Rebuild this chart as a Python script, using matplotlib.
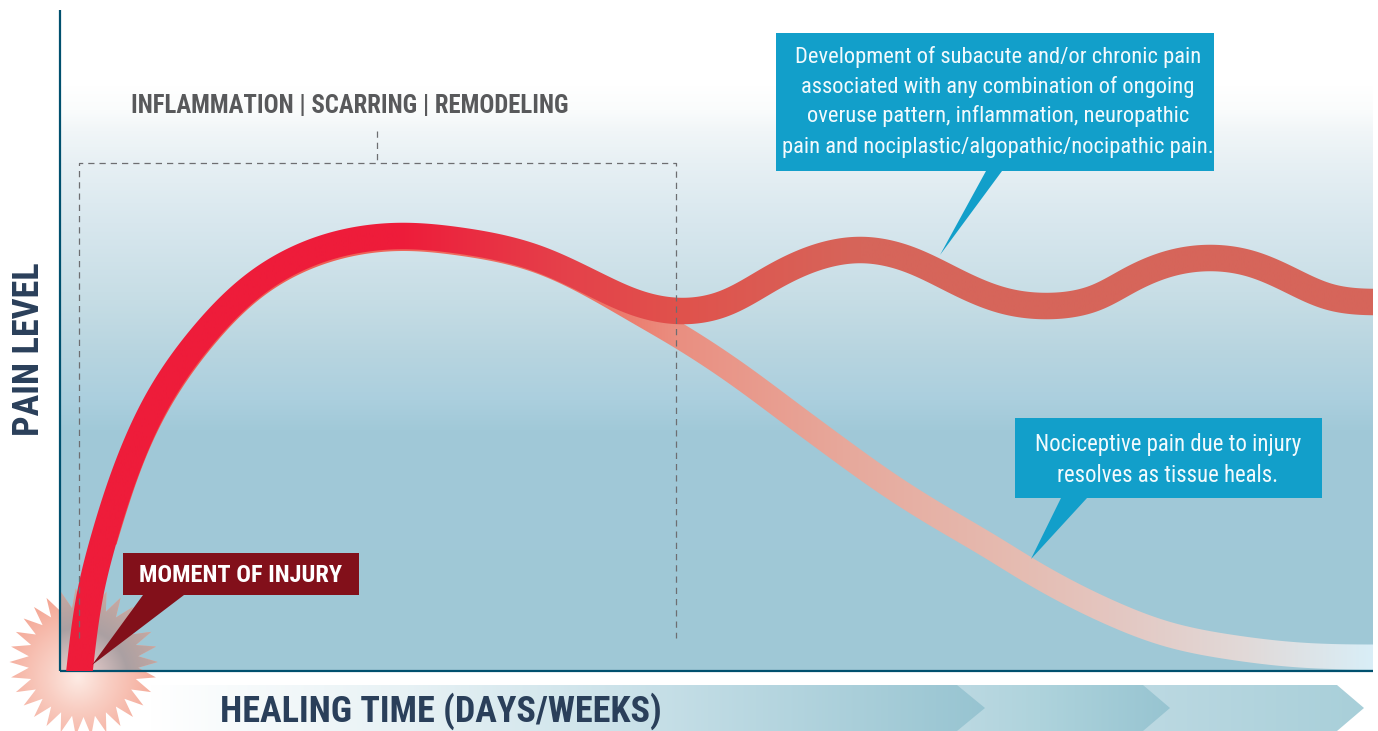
import numpy as np
import matplotlib
matplotlib.use("Agg")
import matplotlib.pyplot as plt
from matplotlib.colors import LinearSegmentedColormap, to_rgb
from matplotlib.path import Path
from matplotlib.patches import Polygon, Rectangle

# Curve centre lines (image pixels)
chronic_x = [78.5, 79.5, 91, 103.5, 134, 159, 205, 260, 320, 402, 459, 536, 600, 640, 680, 720, 770, 815,
             860, 905, 957, 1005, 1050, 1095, 1130, 1170, 1210, 1250, 1290, 1330, 1373, 1385]
chronic_y = [680, 671, 590, 540, 450, 398, 333, 280.5, 249.5, 236, 240.5, 258, 287, 304, 311, 305, 279, 258,
             250, 258, 282, 301, 306, 298, 280, 263.5, 258, 263.5, 280, 297, 302, 302]
resolve_x = [104.5, 135, 160, 206, 261, 321, 402, 459, 536, 600, 640, 676, 740, 790, 840, 890, 940,
             990, 1030, 1110, 1167, 1233, 1300, 1373, 1385]
resolve_y = [541, 451, 400, 335, 282.5, 252, 238.5, 243, 260, 290, 313, 334, 376, 413, 450, 485.5, 517,
             546.5, 571, 612.5, 634, 647.5, 655, 657, 657]
chronic_width = 26.5
resolve_width = 25

callout_chronic = ["Development of subacute and/or chronic pain",
                   "associated with any combination of ongoing",
                   "overuse pattern, inflammation, neuropathic",
                   "pain and nociplastic/algopathic/nocipathic pain."]
callout_resolve = ["Nociceptive pain due to injury", "resolves as tissue heals."]
label_injury = "MOMENT OF INJURY"
label_phases = "INFLAMMATION | SCARRING | REMODELING"
label_y = "PAIN LEVEL"
label_x = "HEALING TIME (DAYS/WEEKS)"

NARROW = ["Roboto Condensed", "Roboto", "DejaVu Sans"]
NAVY = "#2A3F5A"
BLUE = "#129FCA"
DARK = "#82101A"


def spline(s, v, si):
    # natural cubic spline, only used to draw a smooth stroke through the read points
    h = np.diff(s)
    A = np.zeros((len(s), len(s)))
    b = np.zeros(len(s))
    A[0, 0] = A[-1, -1] = 1
    for i in range(1, len(s) - 1):
        A[i, i - 1:i + 2] = h[i - 1], 2 * (h[i - 1] + h[i]), h[i]
        b[i] = 6 * ((v[i + 1] - v[i]) / h[i] - (v[i] - v[i - 1]) / h[i - 1])
    m = np.linalg.solve(A, b)
    k = np.clip(np.searchsorted(s, si) - 1, 0, len(h) - 1)
    a0, a1 = s[k + 1] - si, si - s[k]
    return (m[k] * a0 ** 3 + m[k + 1] * a1 ** 3) / (6 * h[k]) + (v[k] / h[k] - m[k] * h[k] / 6) * a0 \
        + (v[k + 1] / h[k] - m[k + 1] * h[k] / 6) * a1


def ribbon_path(xs, ys, width):
    xs, ys = np.array(xs, float), np.array(ys, float)
    s = np.r_[0, np.cumsum(np.hypot(np.diff(xs), np.diff(ys)))]
    si = np.linspace(0, s[-1], 1500)
    c = np.column_stack([spline(s, xs, si), spline(s, ys, si)])
    g = np.gradient(c, axis=0)
    n = np.column_stack([-g[:, 1], g[:, 0]]) / np.hypot(g[:, 0], g[:, 1])[:, None]
    return Path(np.vstack([c + n * width / 2, (c - n * width / 2)[::-1], (c + n * width / 2)[:1]]), closed=True)


def gradient(ax, clip, stops, x0, x1, y0, y1, vertical=False, zorder=2):
    lo, hi = (y0, y1) if vertical else (x0, x1)
    cmap = LinearSegmentedColormap.from_list("g", [((s - lo) / (hi - lo), c) for s, c in stops], N=512)
    g = np.linspace(0, 1, 512)
    g = g[:, None] if vertical else g[None, :]
    im = ax.imshow(g, cmap=cmap, extent=(x0, x1, y1, y0), aspect="auto", zorder=zorder, interpolation="bilinear")
    if clip is not None:
        im.set_clip_path(clip, transform=ax.transData)
    return im


plt.rcParams["font.family"] = NARROW
fig = plt.figure(figsize=(13.78, 7.31), dpi=100)
ax = fig.add_axes([0, 0, 1, 1])

# Plot background
bg_stops = [(85, "#FFFFFF"), (110, "#FAFCFC"), (130, "#F1F6F8"), (163, "#E7F0F4"), (223, "#D8E7EE"), (300, "#C6DDE5"),
            (350, "#B8D5E0"), (400, "#ABCFDE"), (430, "#A1C9D8"), (671, "#9FC8D6")]
gradient(ax, None, bg_stops, 60, 1373, 85, 671, vertical=True, zorder=1)

# Bottom chevrons, the first one lies on top
chevrons = [(1143, 1337, 1364, [(1143, "#BCD9E2"), (1364, "#A8CFD9")], 2.1),
            (957, 1143, 1170, [(957, "#BCD9E2"), (1040, "#AED3DC"), (1170, "#97C4D1")], 2.2),
            (150, 957, 985, [(150, "#FFFFFF"), (400, "#E8F2F5"), (660, "#C6DFE7"), (985, "#97C4D1")], 2.3)]
for left, shoulder, tip, stops, z in chevrons:
    shape = Path([(left, 685), (shoulder, 685), (tip, 708), (shoulder, 731), (left, 731), (left, 685)], closed=True)
    gradient(ax, shape, stops, left, tip, 685, 731, zorder=z)

# Starburst
n_spikes = 30
angles = np.arange(n_spikes * 2) * np.pi / n_spikes
radii = np.where(np.arange(n_spikes * 2) % 2 == 0, 74, 55)
star = np.column_stack([83.5 + radii * np.cos(angles), 662 + radii * np.sin(angles)])
star_path = Path(np.vstack([star, star[0]]), closed=True)


def radial(x0, x1, y0, y1, stops):
    yy, xx = np.mgrid[y0:y1:300j, x0:x1:300j]
    rr = np.hypot(xx - 78, yy - 678)
    cols = np.array([to_rgb(s[1]) for s in stops])
    return np.dstack([np.interp(rr, [s[0] for s in stops], cols[:, i]) for i in range(3)])


glow = ax.imshow(radial(5, 165, 585, 740, [(0, "#FDEBE4"), (30, "#F9CFC4"), (85, "#F4A593")]),
                 extent=(5, 165, 740, 585), aspect="auto", zorder=3)
glow.set_clip_path(star_path, transform=ax.transData)
over = ax.imshow(radial(61, 165, 585, 671, [(0, "#F5D8D0"), (25, "#D0BCBC"), (50, "#ABA0A2"), (85, "#C4A8A2")]),
                 extent=(61, 165, 671, 585), aspect="auto", zorder=3.1)
over.set_clip_path(star_path, transform=ax.transData)

# Axis lines
ax.plot([60, 60], [10, 671], color="#00506E", lw=1.6, zorder=4, solid_capstyle="butt")
ax.plot([60, 1373], [671, 671], color="#00506E", lw=1.6, zorder=4, solid_capstyle="butt")

# Resolving curve sits under the chronic one
gradient(ax, ribbon_path(resolve_x, resolve_y, resolve_width),
         [(90, "#F0504A"), (600, "#EE7466"), (680, "#EA8F81"), (850, "#E7A99C"), (1030, "#E5BDB3"),
          (1110, "#E4C6C0"), (1250, "#E1DAD9"), (1373, "#D9EEF7")], 90, 1373, 220, 671, zorder=5)
gradient(ax, ribbon_path(chronic_x, chronic_y, chronic_width),
         [(60, "#EE1C3A"), (400, "#EE1C3A"), (560, "#E5404A"), (680, "#E0524C"), (860, "#D6655A"),
          (1373, "#D6655A")], 60, 1373, 220, 671, zorder=6)

# Dashed bracket
dash = dict(color="#6D6E71", lw=0.9, ls=(0, (5, 4)), zorder=7)
ax.plot([79, 79, 676, 676], [638, 163, 163, 638], **dash)
ax.plot([377, 377], [131, 163], **dash)

# Callouts
ax.add_patch(Polygon([(986, 171), (1002, 171), (940, 255)], fc=BLUE, ec="none", zorder=8))
ax.add_patch(Rectangle((776, 33), 438, 138, fc=BLUE, ec="none", zorder=8))
ax.add_patch(Polygon([(1061, 498), (1087, 498), (1031, 559)], fc=BLUE, ec="none", zorder=8))
ax.add_patch(Rectangle((1015, 418), 307, 80, fc=BLUE, ec="none", zorder=8))
ax.add_patch(Polygon([(143, 595), (184, 595), (92, 665)], fc=DARK, ec="none", zorder=8))
ax.add_patch(Rectangle((123, 553), 236, 42, fc=DARK, ec="none", zorder=8))

for line, y in zip(callout_chronic, [57, 87, 116, 147]):
    ax.text(998, y, line, color="#F2FAFD", fontsize=16.2, ha="center", va="center", zorder=9)
for line, y in zip(callout_resolve, [445, 475]):
    ax.text(1168, y, line, color="#F2FAFD", fontsize=16.4, ha="center", va="center", zorder=9)
ax.text(241, 575, label_injury, color="white", fontsize=17.6, fontweight="bold", ha="center", va="center", zorder=9)
ax.text(350, 106, label_phases, color="#58595B", fontsize=17.8, fontweight="bold", ha="center", va="center", zorder=9)
ax.text(29, 349, label_y, color=NAVY, fontsize=26, fontweight="bold", rotation=90, ha="center", va="center", zorder=9)
ax.text(441, 711, label_x, color=NAVY, fontsize=26, fontweight="bold", ha="center", va="center", zorder=9)

ax.set_xlim(0, 1378)
ax.set_ylim(731, 0)
ax.axis("off")
fig.savefig("out.png", dpi=100, facecolor="white")
